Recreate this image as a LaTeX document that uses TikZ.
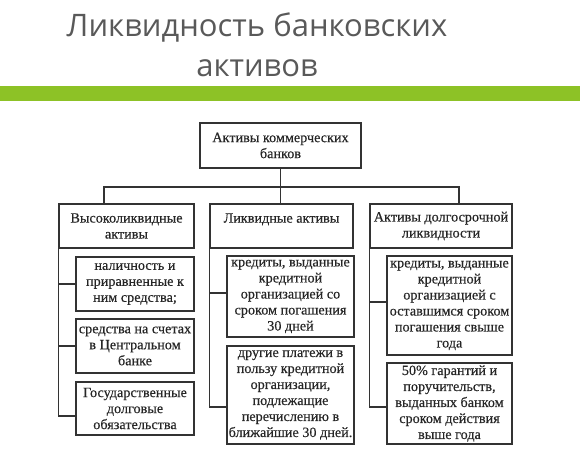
\documentclass[tikz,border=0pt]{standalone}
\usepackage{fontspec}
\setmainfont{Liberation Serif}
\newfontfamily\boxfont{Liberation Serif}[FakeBold=0.35]
\newfontfamily\titlefont{Open Sans}
\usepackage{tikz}
\definecolor{bar}{HTML}{8DC226}
\definecolor{ttl}{HTML}{595959}
\definecolor{frm}{HTML}{333333}

\begin{document}
\begin{tikzpicture}[x=1pt,y=-1pt,
  box/.style={draw=frm,line width=1.3pt,fill=white,align=center,inner sep=1pt,
    text=black!85,font=\boxfont\fontsize{14.2}{16}\selectfont},
  link/.style={frm,line width=1.3pt}]
  \useasboundingbox (0,0) rectangle (580,465);
  % title
  \node[ttl,font=\titlefont\fontsize{31}{40}\selectfont,align=center] (title) at (257,45)
    {Ликвидность банковских\\активов};
  \fill[bar] (0,86) rectangle (580,101);
  % top and level 2
  \node[box,minimum width=161pt,minimum height=45pt] (root) at (280.5,145.5)
    {Активы коммерческих\\банков};
  \node[box,minimum width=135pt,minimum height=44pt] (high) at (126.5,226)
    {Высоколиквидные\\активы};
  \node[box,minimum width=143pt,minimum height=44pt] (liq) at (281.5,226)
    {Ликвидные активы\\\mbox{}};
  \node[box,minimum width=142pt,minimum height=44pt] (long) at (441,226)
    {Активы долгосрочной\\ликвидности};
  \coordinate (fork) at (280.5,187);
  \draw[link] (root.south) -- (fork);
  \draw[link] ([xshift=-22.5pt]high.north) |- (fork) -| ([xshift=18pt]long.north);
  \draw[link] (fork) -- ([xshift=-1pt]liq.north);
  % highly liquid
  \node[box,minimum width=118pt,minimum height=54pt] (cash) at (135,284)
    {наличность и\\приравненные к\\ним средства;};
  \node[box,minimum width=118pt,minimum height=54pt] (cb) at (135,346)
    {средства на счетах\\в Центральном\\банке};
  \node[box,minimum width=118pt,minimum height=53pt] (gov) at (135,408.5)
    {Государственные\\долговые\\обязательства};
  \draw[link] (high.south west) |- (cash.west);
  \draw[link] (high.south west) |- (cb.west);
  \draw[link] (high.south west) |- ([yshift=-7.5pt]gov.west);
  % liquid
  \node[box,minimum width=127pt,minimum height=81pt] (loan) at (290.5,296.5)
    {кредиты, выданные\\кредитной\\организацией со\\сроком погашения\\30 дней};
  \node[box,minimum width=127pt,minimum height=98pt] (pay) at (290.5,395)
    {другие платежи в\\пользу кредитной\\организации,\\подлежащие\\перечислению в\\ближайшие 30 дней.};
  \draw[link] (liq.south west) |- ([yshift=3.5pt]loan.west);
  \draw[link] (liq.south west) |- ([yshift=-12pt]pay.west);
  % long-term
  \node[box,minimum width=125pt,minimum height=99pt] (lloan) at (449.5,305.5)
    {кредиты, выданные\\кредитной\\организацией с\\оставшимся сроком\\погашения свыше\\года};
  \node[box,minimum width=125pt,minimum height=81pt] (guar) at (449.5,403.5)
    {50\% гарантий и\\поручительств,\\выданных банком\\сроком действия\\выше года};
  \draw[link] (long.south west) |- ([yshift=3.5pt]lloan.west);
  \draw[link] (long.south west) |- ([yshift=-3.5pt]guar.west);
\end{tikzpicture}
\end{document}
